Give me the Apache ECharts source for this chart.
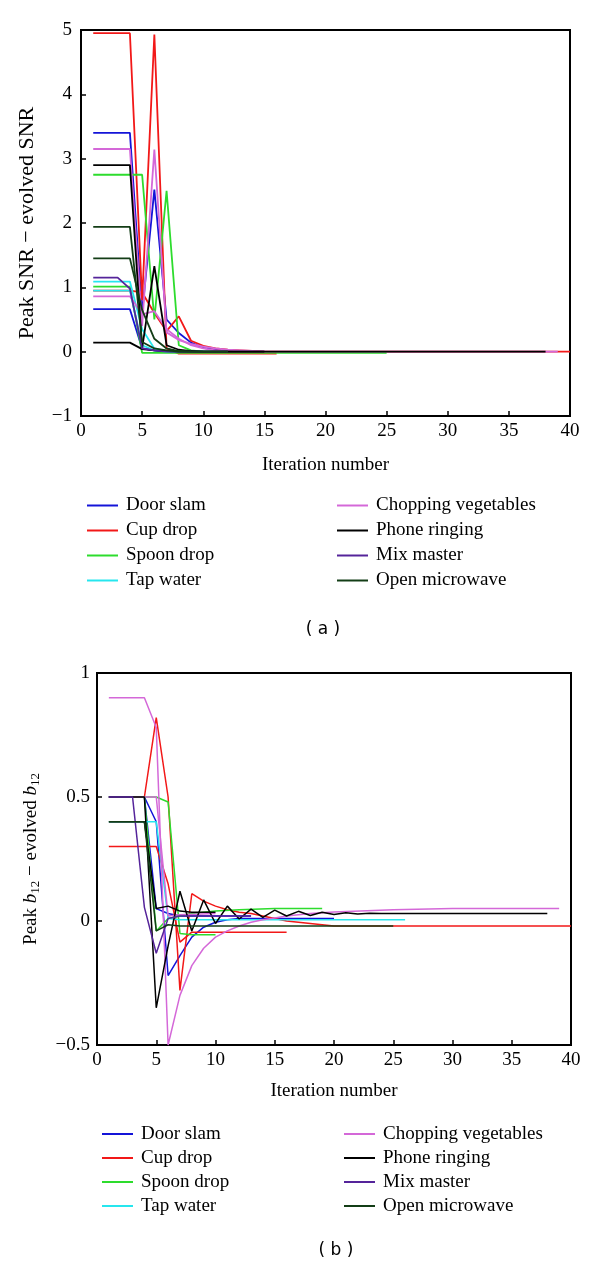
<!DOCTYPE html>
<html>
<head>
<meta charset="utf-8">
<script src="https://cdn.jsdelivr.net/npm/echarts@6/dist/echarts.min.js"></script>
<style>
  html, body { margin: 0; padding: 0; background: #fff; }
  #chart { width: 600px; height: 1268px; }
</style>
</head>
<body>
<div id="chart"></div>
<script>
// legend names, left and right column
const namesLeft = ['Door slam', 'Cup drop', 'Spoon drop', 'Tap water'];
const namesRight = ['Chopping vegetables', 'Phone ringing', 'Mix master', 'Open microwave'];
const colors = {
  'Door slam': '#1414d8',
  'Cup drop': '#f21818',
  'Spoon drop': '#2ddc2d',
  'Tap water': '#26e6ee',
  'Chopping vegetables': '#d468d8',
  'Phone ringing': '#000000',
  'Mix master': '#55249a',
  'Open microwave': '#133d16'
};

// (a) peak SNR - evolved SNR, [iteration, value]
const slamTopA = [[1, 3.4], [4, 3.4], [5, 0.6], [6, 2.52], [7, 0.5], [8, 0.29], [9, 0.14], [10, 0.06], [11, 0.03], [12, 0.01], [13, 0], [15, 0]];
const slamTopB = [[1, 0.66], [4, 0.66], [5, 0.05], [6, 0.02], [7, 0], [10, 0]];
const cupTopA = [[1, 4.95], [4, 4.95], [5, 0.8], [6, 4.93], [7, 0.05], [8, -0.03], [16, -0.03]];
const cupTopB = [[1, 0.95], [4, 0.95], [5, 0.92], [6, 0.6], [7, 0.32], [8, 0.55], [9, 0.17], [10, 0.09], [11, 0.05], [12, 0.03], [13, 0.02], [14, 0.01], [15, 0], [40, 0]];
const spoonTopA = [[1, 2.75], [5, 2.75], [6, 0.5], [7, 2.5], [8, 0.1], [9, 0.02], [10, 0], [12, 0]];
const spoonTopB = [[1, 1.01], [4, 1.01], [5, -0.02], [25, -0.02]];
const tapTopA = [[1, 1.09], [4, 1.09], [5, 0.35], [6, 0.05], [7, 0.01], [8, 0], [12, 0]];
const tapTopB = [[1, 0.95], [4, 0.95], [5, 0.1], [6, 0.02], [7, 0], [10, 0]];
const chopTopA = [[1, 3.15], [4, 3.15], [5, 0.4], [6, 3.14], [7, 0.3], [8, 0.18], [9, 0.12], [10, 0.08], [11, 0.05], [12, 0.03], [13, 0.02], [14, 0.01], [15, 0], [39, 0]];
const chopTopB = [[1, 0.86], [4, 0.86], [5, 0.58], [6, 0.63], [7, 0.35], [8, 0.2], [9, 0.1], [10, 0.05], [11, 0.02], [12, 0], [15, 0]];
const phoneTopA = [[1, 2.9], [4, 2.9], [5, 0.05], [6, 1.33], [7, 0.1], [8, 0.03], [9, 0.01], [10, 0], [15, 0]];
const phoneTopB = [[1, 0.14], [4, 0.14], [5, 0.04], [6, 0.02], [7, 0.01], [8, 0], [38, 0]];
const mixTop = [[1, 1.15], [3, 1.15], [4, 0.98], [5, 0.05], [6, 0.02], [7, 0], [12, 0]];
const microTopA = [[1, 1.94], [4, 1.94], [5, 0.15], [6, 0.05], [7, 0.02], [8, 0], [12, 0]];
const microTopB = [[1, 1.45], [4, 1.45], [5, 0.65], [6, 0.2], [7, 0.05], [8, 0.01], [9, 0], [12, 0]];

// (b) peak b12 - evolved b12
const slamBotA = [[1, 0.5], [4, 0.5], [5, 0.4], [6, -0.22], [7, -0.14], [8, -0.065], [9, -0.025], [10, -0.005], [11, 0.005], [12, 0.01], [20, 0.01]];
const slamBotB = [[1, 0.5], [4, 0.5], [5, 0.05], [6, 0.03], [7, 0.02], [13, 0.02]];
const cupBotA = [[1, 0.5], [4, 0.5], [5, 0.82], [6, 0.5], [7, -0.28], [8, 0.11], [9, 0.08], [10, 0.06], [11, 0.045], [12, 0.035], [13, 0.03], [14, 0.02], [15, 0.01], [16, 0], [18, -0.01], [20, -0.02], [40, -0.02]];
const cupBotB = [[1, 0.3], [5, 0.3], [6, 0.15], [7, -0.085], [8, -0.045], [16, -0.045]];
const spoonBotA = [[1, 0.5], [5, 0.5], [6, 0.48], [7, -0.05], [8, -0.055], [10, -0.055]];
const spoonBotB = [[1, 0.5], [4, 0.5], [5, -0.04], [6, 0.01], [7, 0.02], [8, 0.03], [9, 0.035], [10, 0.04], [12, 0.045], [15, 0.05], [19, 0.05]];
const tapBot = [[1, 0.4], [5, 0.4], [6, 0.01], [7, 0.005], [26, 0.005]];
const chopBotA = [[1, 0.9], [4, 0.9], [5, 0.78], [6, -0.5], [7, -0.3], [8, -0.18], [9, -0.11], [10, -0.065], [11, -0.04], [12, -0.02], [13, -0.005], [14, 0.005], [15, 0.012], [16, 0.02], [18, 0.03], [20, 0.036], [25, 0.045], [30, 0.05], [39, 0.05]];
const chopBotB = [[1, 0.5], [5, 0.5], [6, 0.02], [7, 0.025], [10, 0.03]];
const phoneBotA = [[1, 0.5], [4, 0.5], [5, -0.35], [6, -0.1], [7, 0.12], [8, -0.04], [9, 0.085], [10, -0.01], [11, 0.06], [12, 0.008], [13, 0.048], [14, 0.015], [15, 0.044], [16, 0.02], [17, 0.039], [18, 0.022], [19, 0.035], [20, 0.026], [21, 0.033], [22, 0.028], [23, 0.031], [24, 0.03], [38, 0.03]];
const phoneBotB = [[1, 0.4], [4, 0.4], [5, 0.05], [6, 0.06], [7, 0.04], [8, 0.035], [10, 0.035]];
const mixBot = [[1, 0.5], [3, 0.5], [4, 0.055], [5, -0.13], [6, 0.01], [7, 0.02], [13, 0.02]];
const microBot = [[1, 0.4], [4, 0.4], [5, -0.04], [6, -0.015], [7, -0.02], [25, -0.02]];

const xTicks = { min: 0, max: 40, interval: 5 };
const yTopTicks = { min: -1, max: 5, interval: 1 };
const yBotTicks = { min: -0.5, max: 1, interval: 0.5 };

const runsTop = [
  ['Door slam', slamTopA], ['Door slam', slamTopB],
  ['Cup drop', cupTopA], ['Cup drop', cupTopB],
  ['Spoon drop', spoonTopA], ['Spoon drop', spoonTopB],
  ['Tap water', tapTopA], ['Tap water', tapTopB],
  ['Chopping vegetables', chopTopA], ['Chopping vegetables', chopTopB],
  ['Phone ringing', phoneTopA], ['Phone ringing', phoneTopB],
  ['Mix master', mixTop],
  ['Open microwave', microTopA], ['Open microwave', microTopB]
];
const runsBot = [
  ['Door slam', slamBotA], ['Door slam', slamBotB],
  ['Cup drop', cupBotA], ['Cup drop', cupBotB],
  ['Spoon drop', spoonBotA], ['Spoon drop', spoonBotB],
  ['Tap water', tapBot],
  ['Chopping vegetables', chopBotA], ['Chopping vegetables', chopBotB],
  ['Phone ringing', phoneBotA], ['Phone ringing', phoneBotB],
  ['Mix master', mixBot],
  ['Open microwave', microBot]
];

const serif = 'Liberation Serif';
const minus = v => String(v).replace('-', '\u2212');

const makeX = (gridIndex, nameGap) => ({
  gridIndex, type: 'value', ...xTicks,
  name: 'Iteration number', nameLocation: 'middle', nameGap,
  nameTextStyle: { fontFamily: serif, fontSize: 19, color: '#000' },
  axisLine: { onZero: false, lineStyle: { color: '#000', width: 2 } },
  axisTick: { inside: true, length: 5, lineStyle: { color: '#000', width: 1.5 } },
  axisLabel: { fontFamily: serif, fontSize: 19, color: '#000', margin: 6 },
  splitLine: { show: false }
});
const makeY = (gridIndex, ticks, name, nameGap, nameSize, margin, rich) => ({
  gridIndex, type: 'value', ...ticks,
  name, nameLocation: 'middle', nameGap,
  nameTextStyle: { fontFamily: serif, fontSize: nameSize, color: '#000', rich },
  axisLine: { onZero: false, lineStyle: { color: '#000', width: 2 } },
  axisTick: { inside: true, length: 5, lineStyle: { color: '#000', width: 1.5 } },
  axisLabel: { fontFamily: serif, fontSize: 19, color: '#000', margin, formatter: minus },
  splitLine: { show: false }
});

const makeSeries = (runs, idx, width) => runs.map(([name, data]) => ({
  name, type: 'line', xAxisIndex: idx, yAxisIndex: idx,
  data, symbol: 'none', silent: true,
  lineStyle: { color: colors[name], width },
  itemStyle: { color: colors[name] }
}));

const makeLegend = (data, left, top, gap) => ({
  data, left, top, orient: 'vertical',
  icon: 'rect', itemWidth: 31, itemHeight: 2, itemGap: 0,
  selectedMode: false,
  textStyle: { fontFamily: serif, fontSize: 19, color: '#000', lineHeight: gap, padding: [0, 0, 0, 3] }
});

const chart = echarts.init(document.getElementById('chart'));
chart.setOption({
  animation: false,
  backgroundColor: '#fff',
  grid: [
    { left: 81, top: 30, width: 489, height: 386, show: true, borderColor: '#000', borderWidth: 2 },
    { left: 97, top: 673, width: 474, height: 372, show: true, borderColor: '#000', borderWidth: 2 }
  ],
  xAxis: [makeX(0, 40), makeX(1, 37)],
  yAxis: [
    makeY(0, yTopTicks, 'Peak SNR \u2212 evolved SNR', 43, 22, 9),
    makeY(1, yBotTicks, '{n|Peak }{i|b}{s|12}{n| \u2212 evolved }{i|b}{s|12}', 55, 19, 7, {
      n: { fontFamily: serif, fontSize: 19, color: '#000' },
      i: { fontFamily: serif, fontSize: 19, fontStyle: 'italic', color: '#000' },
      s: { fontFamily: serif, fontSize: 13, color: '#000', padding: [9, 0, 0, 0] }
    })
  ],
  legend: [
    makeLegend(namesLeft, 82, 488, 25),
    makeLegend(namesRight, 332, 488, 25),
    makeLegend(namesLeft, 97, 1117, 24),
    makeLegend(namesRight, 339, 1117, 24)
  ],
  graphic: [
    { type: 'text', x: 323, y: 630, style: { text: '( a )', fontFamily: 'DejaVu Sans', fontSize: 17, fill: '#000', align: 'center', verticalAlign: 'middle' } },
    { type: 'text', x: 336, y: 1251, style: { text: '( b )', fontFamily: 'DejaVu Sans', fontSize: 17, fill: '#000', align: 'center', verticalAlign: 'middle' } }
  ],
  series: [...makeSeries(runsTop, 0, 1.8), ...makeSeries(runsBot, 1, 1.5)]
});
</script>
</body>
</html>
